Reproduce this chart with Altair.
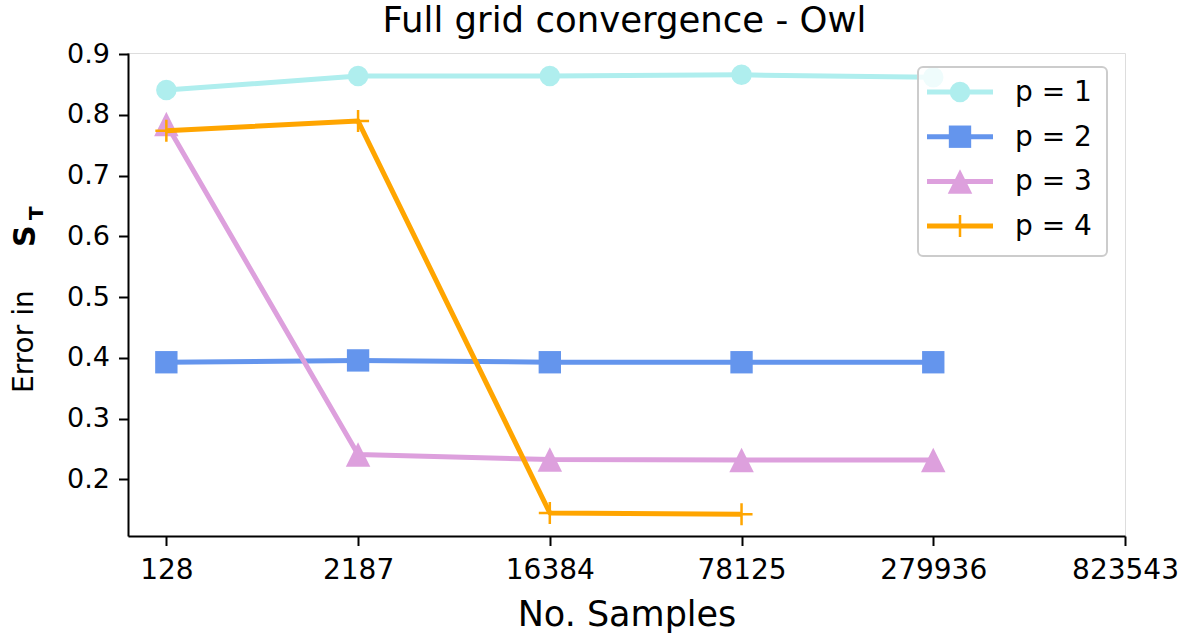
import altair as alt
import pandas as pd

# Sample counts on the x axis (7^d grids: 2^7 ... 7^7)
samples = [128, 2187, 16384, 78125, 279936, 823543]
series = ["p = 1", "p = 2", "p = 3", "p = 4"]

err_p1 = [0.841, 0.864, 0.864, 0.866, 0.862]
err_p2 = [0.393, 0.396, 0.393, 0.393, 0.393]
err_p3 = [0.785, 0.241, 0.233, 0.232, 0.232]
err_p4 = [0.774, 0.790, 0.145, 0.143]

colors = ["#afeeee", "#6495ed", "#dda0dd", "#ffa500"]
y_ticks = [0.2, 0.3, 0.4, 0.5, 0.6, 0.7, 0.8, 0.9]
title_text = ["Full grid convergence - Owl"]

FONT = "DejaVu Sans"
W, H = 997, 483

rows = []
for name, vals in zip(series, [err_p1, err_p2, err_p3, err_p4]):
    for i, v in enumerate(vals):
        rows.append({"series": name, "idx": i, "n": samples[i], "err": v})
df = pd.DataFrame(rows)

label_expr = "[" + ",".join("'%d'" % s for s in samples) + "][datum.value]"

x_enc = alt.X(
    "idx:Q",
    scale=alt.Scale(domain=[-0.2, len(samples) - 1], nice=False, zero=False),
    axis=alt.Axis(
        values=list(range(len(samples))), labelExpr=label_expr, title="No. Samples",
        titleFontSize=35, titleFont=FONT, titleFontWeight="normal", titleColor="black",
        titlePadding=13, labelFontSize=28, labelFont=FONT, labelColor="black",
        labelPadding=11, tickSize=9.5, tickWidth=2, tickColor="black",
        domainColor="black", domainWidth=2, grid=False, labelFlush=False,
    ),
)
y_enc = alt.Y(
    "err:Q",
    scale=alt.Scale(domain=[0.107, 0.902], nice=False, zero=False),
    axis=alt.Axis(
        values=y_ticks, format=".1f", title=None, labelFontSize=27, labelFont=FONT,
        labelColor="black", labelPadding=9, tickSize=9.5, tickWidth=2,
        tickColor="black", domainColor="black", domainWidth=2, grid=False,
    ),
)
color_scale = alt.Scale(domain=series, range=colors)
col_enc = alt.Color("series:N", scale=color_scale, legend=None)

# marker per series: shape, size, filled
markers = [
    ("circle", 420, True),
    ("square", 500, True),
    ("M0,-1L1,1L-1,1Z", 600, True),
    ("M-1,0H1M0,-1V1", 484, False),
]


def marker_mark(chart, shape, size, filled):
    if filled:
        return chart.mark_point(shape=shape, size=size, filled=True, opacity=1)
    return chart.mark_point(shape=shape, size=size, filled=False, opacity=1, strokeWidth=2.5)


layers = []
for name, (shape, size, filled) in zip(series, markers):
    sub = alt.Chart(df).transform_filter(alt.datum.series == name)
    layers.append(sub.mark_line(strokeWidth=5, strokeJoin="round").encode(x=x_enc, y=y_enc, color=col_enc))
    layers.append(marker_mark(sub, shape, size, filled).encode(x=x_enc, y=y_enc, color=col_enc))

# legend: frame box, then a line + marker + label per series
LEG_LEFT, LEG_RIGHT, LEG_TOP, LEG_BOTTOM = 790, 979, 14, 203
ROW0, ROW_STEP = 39, 44.7
SYM_X0, SYM_X1, LABEL_X = 799, 865, 887

one = pd.DataFrame({"k": [0]})
legend_layers = [
    alt.Chart(one).mark_rect(
        fill="white", fillOpacity=0.8, stroke="#cccccc", strokeWidth=2, cornerRadius=5
    ).encode(x=alt.value(LEG_LEFT), x2=alt.value(LEG_RIGHT),
             y=alt.value(LEG_TOP), y2=alt.value(LEG_BOTTOM))
]
for i, (name, color, (shape, size, filled)) in enumerate(zip(series, colors, markers)):
    ry = ROW0 + i * ROW_STEP
    entry = alt.Chart(pd.DataFrame({"series": [name]}))
    legend_layers.append(
        entry.mark_rule(strokeWidth=5, color=color).encode(
            x=alt.value(SYM_X0), x2=alt.value(SYM_X1), y=alt.value(ry))
    )
    legend_layers.append(
        marker_mark(entry, shape, size, filled).encode(
            x=alt.value((SYM_X0 + SYM_X1) / 2), y=alt.value(ry), color=alt.value(color))
    )
    legend_layers.append(
        entry.mark_text(align="left", baseline="middle", fontSize=28, font=FONT, color="black")
        .encode(x=alt.value(LABEL_X), y=alt.value(ry + 1), text="series:N")
    )

# y axis title: "Error in S_T" with bold S and subscript T
ylab_text = ["Error in"]
ylab_sym = ["S"]
ylab_sub = ["T"]
ylab1 = alt.Chart(pd.DataFrame({"t": ylab_text})).mark_text(
    angle=270, align="left", baseline="alphabetic", fontSize=28, font=FONT, color="black"
).encode(text="t:N", x=alt.value(-95), y=alt.value(340))
ylab2 = alt.Chart(pd.DataFrame({"t": ylab_sym})).mark_text(
    angle=270, align="left", baseline="alphabetic", fontSize=30, font=FONT,
    fontWeight="bold", color="black"
).encode(text="t:N", x=alt.value(-93), y=alt.value(194))
ylab3 = alt.Chart(pd.DataFrame({"t": ylab_sub})).mark_text(
    angle=270, align="left", baseline="alphabetic", fontSize=20, font=FONT,
    fontWeight="bold", color="black"
).encode(text="t:N", x=alt.value(-85), y=alt.value(167))

# chart heading, centred over the plot area
heading = alt.Chart(pd.DataFrame({"t": title_text})).mark_text(
    align="center", baseline="alphabetic", fontSize=35.5, font=FONT, color="black"
).encode(text="t:N", x=alt.value(W / 2 - 2), y=alt.value(-21))

chart = (
    alt.layer(*layers, *legend_layers, ylab1, ylab2, ylab3, heading)
    .properties(
        width=W, height=H,
        autosize=alt.AutoSizeParams(type="none"),
        padding={"left": 128, "top": 53, "right": 59, "bottom": 101},
    )
    .configure_view(stroke="black", strokeWidth=2)
    .configure(background="white")
)

chart.save("out.html", embed_options={"renderer": "svg", "actions": False})
